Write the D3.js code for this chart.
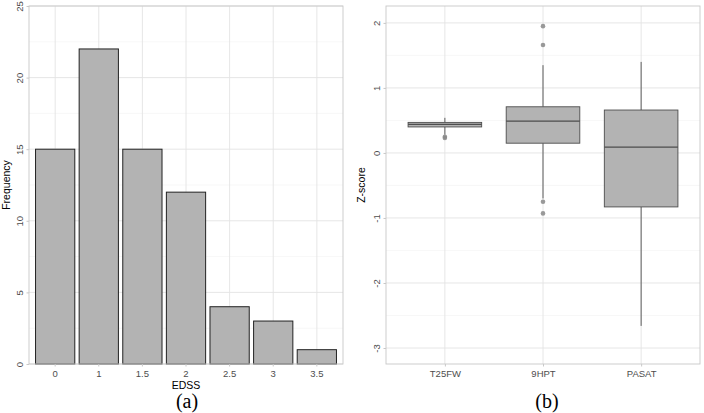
<!DOCTYPE html>
<html>
<head>
<meta charset="utf-8">
<script src="https://cdn.jsdelivr.net/npm/d3@7"></script>
<style>
  body { margin: 0; background: #fff; }
  svg text { font-family: "Liberation Sans", Arial, sans-serif; }
</style>
</head>
<body>
<div id="chart"></div>
<script>
// histogram data (a)
const edssLevels = ["0", "1", "1.5", "2", "2.5", "3", "3.5"];
const edssCounts = [15, 22, 15, 12, 4, 3, 1];
const freqTicks = [0, 5, 10, 15, 20, 25];

// boxplot data (b)
const tests = ["T25FW", "9HPT", "PASAT"];
const boxLow = [0.28, -0.70, -2.66];
const boxQ1 = [0.40, 0.15, -0.83];
const boxMed = [0.44, 0.49, 0.09];
const boxQ3 = [0.47, 0.71, 0.66];
const boxHigh = [0.54, 1.35, 1.40];
const outliers = [[0.25, 0.23], [1.95, 1.66, -0.75, -0.93], []];
const zTicks = [-3, -2, -1, 0, 1, 2];

const W = 704, H = 413;
const svg = d3.select("#chart").append("svg")
    .attr("width", W)
    .attr("height", H);

const gridMajor = "#e3e3e3", gridMinor = "#f1f1f1", borderCol = "#c8c8c8", tickCol = "#4d4d4d";

// ---------- panel (a) ----------
let pa = { left: 29, right: 343, top: 6, bottom: 364 };
let xa = d3.scaleBand().domain(edssLevels)
    .range([pa.left, pa.right]).paddingInner(0.1).paddingOuter(0.15);
let ya = d3.scaleLinear().domain([0, 25]).range([pa.bottom, pa.top]);

let ga = svg.append("g");
// minor grid
d3.range(2.5, 25, 5).forEach(v => {
    ga.append("line").attr("x1", pa.left).attr("x2", pa.right)
        .attr("y1", ya(v)).attr("y2", ya(v))
        .attr("stroke", gridMinor).attr("stroke-width", 0.6);
});
freqTicks.forEach(v => {
    ga.append("line").attr("x1", pa.left).attr("x2", pa.right)
        .attr("y1", ya(v)).attr("y2", ya(v))
        .attr("stroke", gridMajor).attr("stroke-width", 0.9);
});
edssLevels.forEach(c => {
    let cx = xa(c) + xa.bandwidth() / 2;
    ga.append("line").attr("x1", cx).attr("x2", cx)
        .attr("y1", pa.top).attr("y2", pa.bottom)
        .attr("stroke", gridMajor).attr("stroke-width", 0.9);
});

ga.selectAll(".bar").data(edssLevels)
    .enter().append("rect")
    .attr("class", "bar")
    .attr("x", d => xa(d))
    .attr("y", (d, i) => ya(edssCounts[i]))
    .attr("width", xa.bandwidth())
    .attr("height", (d, i) => ya(0) - ya(edssCounts[i]))
    .attr("fill", "#b3b3b3")
    .attr("stroke", "#222")
    .attr("stroke-width", 1);

ga.append("rect").attr("x", pa.left).attr("y", pa.top)
    .attr("width", pa.right - pa.left).attr("height", pa.bottom - pa.top)
    .attr("fill", "none").attr("stroke", borderCol).attr("stroke-width", 0.9);

// axes
let xAxisA = ga.append("g").attr("transform", `translate(0,${pa.bottom})`)
    .call(d3.axisBottom(xa).tickSize(2.5).tickPadding(3));
let yAxisA = ga.append("g").attr("transform", `translate(${pa.left},0)`)
    .call(d3.axisLeft(ya).tickValues(freqTicks).tickFormat(d => String(d)).tickSize(2.5).tickPadding(3));

// ---------- panel (b) ----------
let pb = { left: 386, right: 700, top: 6, bottom: 364 };
let yb = d3.scaleLinear().domain([-3.246, 2.26]).range([pb.bottom, pb.top]);
// category spacing with ggplot discrete expansion 0.6
let step = (pb.right - pb.left) / (tests.length - 1 + 1.2);
let xc = d3.scalePoint().domain(tests).range([pb.left + 0.6 * step, pb.right - 0.6 * step]);

let gb = svg.append("g");
d3.range(-2.5, 2.5, 1).forEach(v => {
    gb.append("line").attr("x1", pb.left).attr("x2", pb.right)
        .attr("y1", yb(v)).attr("y2", yb(v))
        .attr("stroke", gridMinor).attr("stroke-width", 0.6);
});
zTicks.forEach(v => {
    gb.append("line").attr("x1", pb.left).attr("x2", pb.right)
        .attr("y1", yb(v)).attr("y2", yb(v))
        .attr("stroke", gridMajor).attr("stroke-width", 0.9);
});
tests.forEach(c => {
    gb.append("line").attr("x1", xc(c)).attr("x2", xc(c))
        .attr("y1", pb.top).attr("y2", pb.bottom)
        .attr("stroke", gridMajor).attr("stroke-width", 0.9);
});

let boxW = step * 0.75;
let boxCol = "#4d4d4d";
tests.forEach((c, i) => {
    let cx = xc(c);
    gb.append("line").attr("x1", cx).attr("x2", cx)
        .attr("y1", yb(boxHigh[i])).attr("y2", yb(boxQ3[i]))
        .attr("stroke", boxCol).attr("stroke-width", 0.9);
    gb.append("line").attr("x1", cx).attr("x2", cx)
        .attr("y1", yb(boxQ1[i])).attr("y2", yb(boxLow[i]))
        .attr("stroke", boxCol).attr("stroke-width", 0.9);
    gb.append("rect").attr("x", cx - boxW / 2).attr("y", yb(boxQ3[i]))
        .attr("width", boxW).attr("height", yb(boxQ1[i]) - yb(boxQ3[i]))
        .attr("fill", "#b3b3b3").attr("stroke", boxCol).attr("stroke-width", 0.9);
    gb.append("line").attr("x1", cx - boxW / 2).attr("x2", cx + boxW / 2)
        .attr("y1", yb(boxMed[i])).attr("y2", yb(boxMed[i]))
        .attr("stroke", boxCol).attr("stroke-width", 1.2);
    outliers[i].forEach(v => {
        gb.append("circle").attr("cx", cx).attr("cy", yb(v)).attr("r", 2.3)
            .attr("fill", "#888").attr("fill-opacity", 0.85);
    });
});

gb.append("rect").attr("x", pb.left).attr("y", pb.top)
    .attr("width", pb.right - pb.left).attr("height", pb.bottom - pb.top)
    .attr("fill", "none").attr("stroke", borderCol).attr("stroke-width", 0.9);

let xAxisB = gb.append("g").attr("transform", `translate(0,${pb.bottom})`)
    .call(d3.axisBottom(xc).tickSize(2.5).tickPadding(3));
let yAxisB = gb.append("g").attr("transform", `translate(${pb.left},0)`)
    .call(d3.axisLeft(yb).tickValues(zTicks).tickFormat(d => String(d)).tickSize(2.5).tickPadding(3));

// shared axis styling
[xAxisA, yAxisA, xAxisB, yAxisB].forEach(a => {
    a.select(".domain").remove();
    a.selectAll(".tick line").attr("stroke", borderCol);
    a.selectAll(".tick text").attr("fill", tickCol).attr("font-size", 9.5)
        .attr("font-family", "Liberation Sans, Arial, sans-serif");
});
// rotated y tick labels
[yAxisA, yAxisB].forEach(a => {
    a.selectAll(".tick text")
        .attr("x", 0).attr("dy", 0)
        .attr("transform", "translate(-6,0) rotate(-90)")
        .attr("text-anchor", "middle");
});
xAxisA.selectAll(".tick text").attr("dy", "0.75em");
xAxisB.selectAll(".tick text").attr("dy", "0.75em");

// axis titles
svg.append("text").attr("x", (pa.left + pa.right) / 2).attr("y", 389)
    .attr("text-anchor", "middle").attr("font-size", 10.5).attr("fill", "#000").text("EDSS");
svg.append("text").attr("transform", `translate(10,${(pa.top + pa.bottom) / 2}) rotate(-90)`)
    .attr("text-anchor", "middle").attr("font-size", 10.5).attr("fill", "#000").text("Frequency");
svg.append("text").attr("transform", `translate(365,${(pb.top + pb.bottom) / 2}) rotate(-90)`)
    .attr("text-anchor", "middle").attr("font-size", 10.5).attr("fill", "#000").text("Z-score");

// panel captions
svg.append("text").attr("x", 187).attr("y", 408)
    .attr("text-anchor", "middle").attr("font-size", 20)
    .style("font-family", "Liberation Serif, Times New Roman, serif").text("(a)");
svg.append("text").attr("x", 547).attr("y", 408)
    .attr("text-anchor", "middle").attr("font-size", 20)
    .style("font-family", "Liberation Serif, Times New Roman, serif").text("(b)");
</script>
</body>
</html>
